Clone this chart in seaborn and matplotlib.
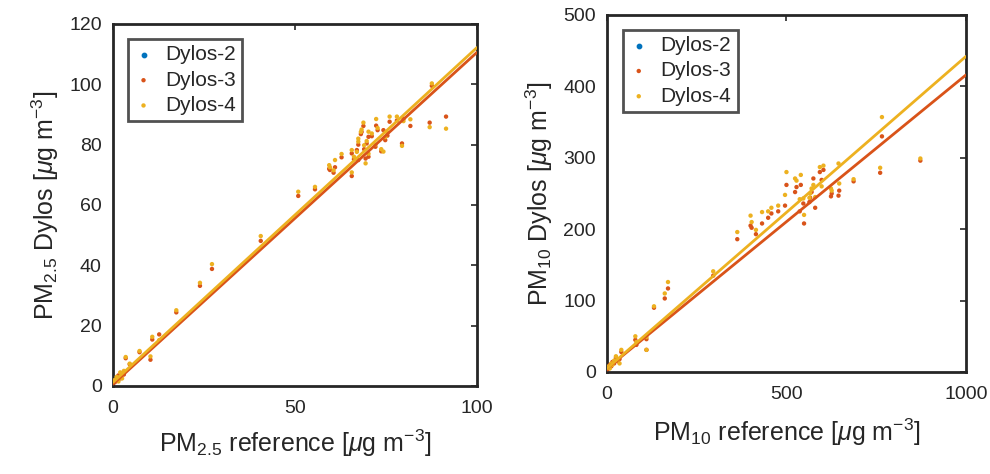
import numpy as np
import pandas as pd
import matplotlib
matplotlib.use("Agg")
import matplotlib.pyplot as plt
import seaborn as sns

# ------------------ DATA ------------------
# PM2.5 panel: reference concentration and Dylos readings (Dylos-2 has no data)
pm25_ref = [0.5, 1.0, 1.5, 2.0, 2.5, 3.0, 3.5, 4.6, 7.3, 10.3, 10.8, 12.7, 17.4,
            23.9, 27.2, 40.6, 50.9, 55.5, 59.4, 59.6, 60.6, 61.0, 62.8, 65.6, 65.6,
            66.2, 67.0, 67.4, 67.4, 68.1, 68.3, 68.8, 69.0, 69.4, 69.7, 70.2, 70.2,
            71.1, 72.1, 72.3, 72.7, 73.7, 74.3, 74.8, 75.4, 76.0, 78.0, 79.4, 79.8,
            81.7, 87.0, 87.6, 91.5]
pm25_dylos3 = [1.2, 2.0, 3.5, 2.5, 4.0, 3.8, 9.2, 7.2, 11.2, 8.7, 15.4, 17.1, 24.4,
               33.2, 38.8, 48.1, 63.0, 65.2, 72.0, 71.6, 70.7, 72.5, 75.8, 77.1, 69.6,
               75.2, 78.2, 74.9, 80.0, 83.5, 84.2, 86.2, 78.5, 75.4, 80.4, 82.6, 76.0,
               82.8, 79.3, 86.3, 84.8, 77.8, 84.8, 81.5, 83.0, 87.6, 88.0, 80.4, 88.6,
               86.2, 87.3, 99.5, 89.3]
pm25_dylos4 = [2.0, 3.0, 1.5, 4.5, 2.5, 5.0, 9.6, 7.4, 11.6, 9.8, 16.3, 15.2, 25.1,
               34.2, 40.4, 49.7, 64.4, 66.0, 73.2, 72.5, 71.5, 74.9, 76.9, 78.2, 70.8,
               76.0, 77.6, 81.0, 82.0, 84.2, 85.0, 87.3, 79.8, 73.8, 81.2, 84.3, 77.0,
               83.7, 80.0, 88.5, 85.5, 78.5, 77.7, 82.5, 84.0, 89.3, 89.3, 79.6, 87.8,
               88.4, 85.8, 100.3, 85.3]

# PM10 panel
pm10_ref = [2, 5, 8, 12, 15, 20, 25, 30, 35, 40, 79, 82, 110, 110, 131, 161, 170,
            296, 363, 400, 403, 415, 432, 449, 458, 477, 496, 500, 524, 528, 537,
            540, 547, 549, 564, 566, 570, 575, 580, 593, 598, 603, 624, 626, 645,
            647, 687, 761, 766, 873]
pm10_dylos3 = [4, 6, 10, 8, 14, 12, 20, 15, 18, 28, 45, 38, 31, 46, 90, 103, 117,
               135, 186, 205, 202, 193, 208, 216, 222, 225, 233, 262, 252, 259, 225,
               262, 236, 208, 238, 244, 252, 271, 230, 280, 269, 283, 246, 250, 247,
               254, 267, 279, 330, 296]
pm10_dylos4 = [6, 8, 5, 12, 10, 16, 22, 18, 12, 31, 50, 42, 31, 49, 92, 110, 126,
               141, 196, 219, 210, 199, 224, 225, 230, 233, 248, 280, 271, 268, 242,
               276, 243, 220, 244, 250, 257, 262, 245, 287, 260, 289, 257, 254, 292,
               264, 270, 286, 357, 299]

# linear fits (slope, intercept)
pm25_fit = {"Dylos-3": (1.10, 0.6), "Dylos-4": (1.11, 1.2)}
pm10_fit = {"Dylos-3": (0.411, 5.0), "Dylos-4": (0.437, 5.0)}

colors = {"Dylos-2": "#0072BD", "Dylos-3": "#D95319", "Dylos-4": "#EDB120"}

# ------------------ STYLE ------------------
sns.set_style("white")
plt.rcParams["font.family"] = ["Liberation Sans", "DejaVu Sans"]
plt.rcParams["mathtext.fontset"] = "custom"
plt.rcParams["mathtext.rm"] = "Liberation Sans"
plt.rcParams["mathtext.it"] = "Liberation Sans:italic"
plt.rcParams["mathtext.default"] = "regular"

TXT = "#262626"


def make_frame(ref, d3, d4):
    rows = []
    for name, vals in [("Dylos-3", d3), ("Dylos-4", d4)]:
        rows.append(pd.DataFrame({"ref": ref, "dylos": vals, "sensor": name}))
    return pd.concat(rows, ignore_index=True)


def draw_panel(ax, df, fits, xmax, ymax, xticks, yticks, pm, leg_anchor, xlpad):
    # empty Dylos-2 so it shows up in the legend like the original
    ax.scatter([], [], s=10, color=colors["Dylos-2"], label="Dylos-2")
    for name in ["Dylos-3", "Dylos-4"]:
        sub = df[df.sensor == name]
        sns.scatterplot(data=sub, x="ref", y="dylos", color=colors[name], s=10,
                        edgecolor="none", ax=ax, label=name, zorder=3)
    xs = np.array([0, xmax])
    for name in ["Dylos-3", "Dylos-4"]:
        m, b = fits[name]
        sns.lineplot(x=xs, y=m * xs + b, color=colors[name], lw=2.0, ax=ax,
                     legend=False, zorder=4)
    ax.set_xlim(0, xmax)
    ax.set_ylim(0, ymax)
    ax.set_xticks(xticks)
    ax.set_yticks(yticks)
    ax.tick_params(direction="in", length=4, width=1.2, top=True, right=True,
                   labelsize=14, colors=TXT)
    ax.tick_params(axis="x", pad=10)
    ax.tick_params(axis="y", pad=8)
    for sp in ax.spines.values():
        sp.set_linewidth(2.0)
        sp.set_color(TXT)
    ax.set_xlabel(r"PM$_{%s}$ reference [$\mathit{\mu}$g m$^{-3}$]" % pm,
                  fontsize=18, color=TXT, labelpad=xlpad)
    ax.set_ylabel(r"PM$_{%s}$ Dylos [$\mathit{\mu}$g m$^{-3}$]" % pm,
                  fontsize=18, color=TXT, labelpad=6)
    leg = ax.legend(loc="upper left", fontsize=15, frameon=True, fancybox=False,
                    handlelength=0.9, handletextpad=0.6, borderpad=0.3,
                    labelspacing=0.3, borderaxespad=0, bbox_to_anchor=leg_anchor)
    leg.get_frame().set_edgecolor(TXT)
    leg.get_frame().set_linewidth(2.0)


fig = plt.figure(figsize=(9.9, 4.74), dpi=100)
ax1 = fig.add_axes([0.1141, 0.1857, 0.3677, 0.7637])
ax2 = fig.add_axes([0.6131, 0.2152, 0.3626, 0.7532])

draw_panel(ax1, make_frame(pm25_ref, pm25_dylos3, pm25_dylos4), pm25_fit,
           100, 120, [0, 50, 100], np.arange(0, 121, 20), "2.5",
           (0.041, 0.958), 8)
draw_panel(ax2, make_frame(pm10_ref, pm10_dylos3, pm10_dylos4), pm10_fit,
           1000, 500, [0, 500, 1000], np.arange(0, 501, 100), "10",
           (0.045, 0.958), 10)

fig.savefig("out.png", dpi=100)
plt.close(fig)
